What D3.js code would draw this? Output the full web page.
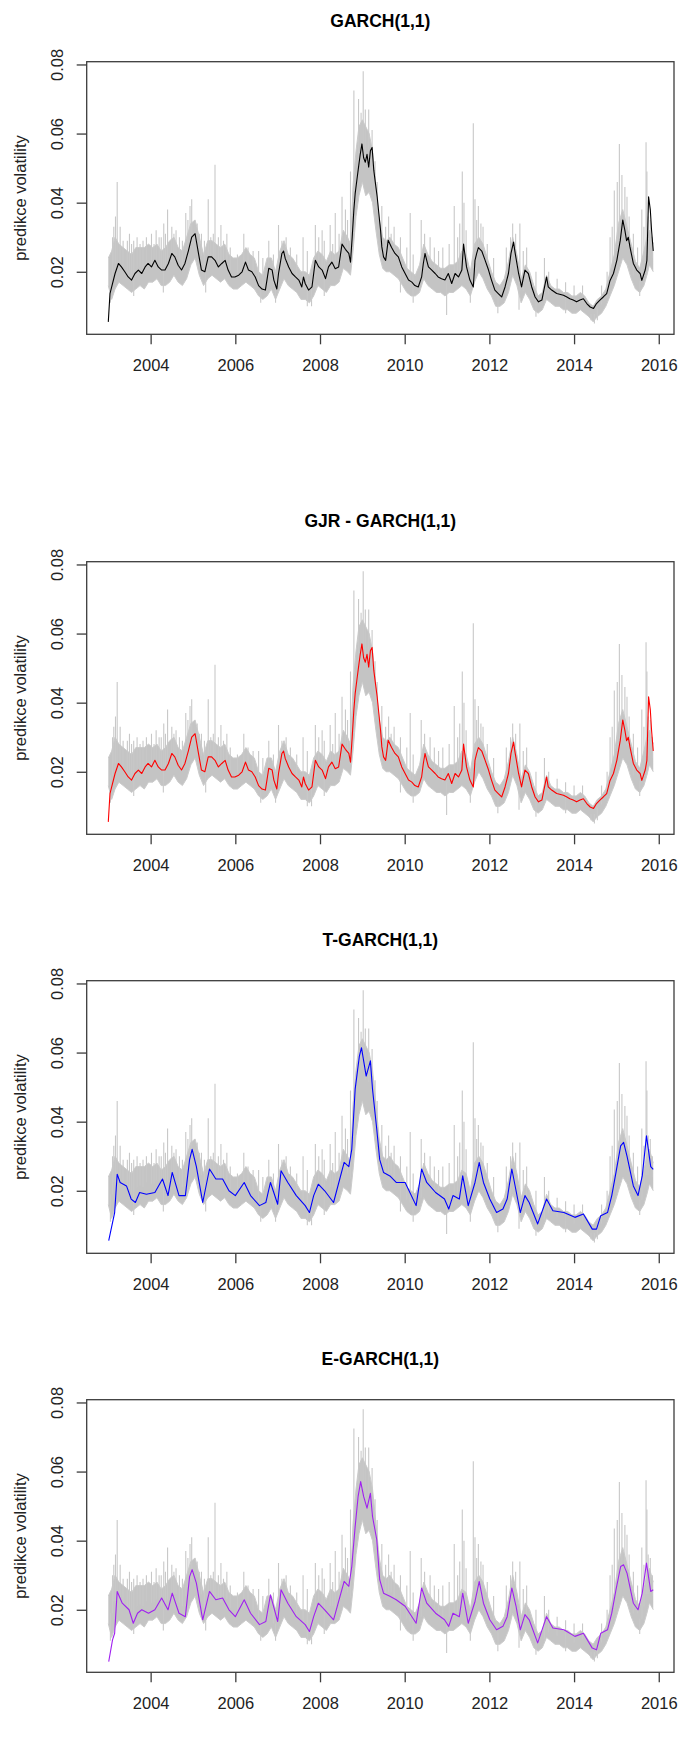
<!DOCTYPE html>
<html>
<head>
<meta charset="utf-8">
<script src="https://cdn.jsdelivr.net/npm/d3@7"></script>
<style>
  html, body { margin: 0; padding: 0; background: #ffffff; }
  svg { display: block; font-family: "Liberation Sans", Arial, sans-serif; }
</style>
</head>
<body>
<svg id="chart" width="684" height="1751"></svg>
<script>
// Tick labels and panel titles
const xTicks = [2004, 2006, 2008, 2010, 2012, 2014, 2016];
const yTicks = [0.02, 0.04, 0.06, 0.08];
const panelTitles = ["GARCH(1,1)", "GJR - GARCH(1,1)", "T-GARCH(1,1)", "E-GARCH(1,1)"];
const yAxisTitle = "predikce volatility";
const lineColors = ["#000000", "#ff0000", "#0000ff", "#a020f0"];

// Realised volatility (grey): band [year, low, high] and isolated spikes [year, value]
const realisedBand = [
  [2003.00, .016, .024], [2003.08, .012, .026], [2003.16, .015, .030], [2003.25, .017, .028],
  [2003.35, .016, .027], [2003.45, .015, .026], [2003.55, .014, .025], [2003.65, .015, .027],
  [2003.75, .016, .027], [2003.85, .015, .027], [2003.95, .017, .028], [2004.05, .017, .027],
  [2004.15, .018, .028], [2004.25, .016, .026], [2004.35, .016, .027], [2004.45, .017, .029],
  [2004.55, .019, .030], [2004.65, .017, .027], [2004.75, .016, .026], [2004.85, .018, .030],
  [2004.95, .022, .034], [2005.05, .024, .035], [2005.15, .019, .030], [2005.25, .016, .025],
  [2005.35, .018, .029], [2005.45, .019, .029], [2005.55, .018, .028], [2005.65, .017, .027],
  [2005.75, .018, .028], [2005.85, .016, .025], [2005.95, .015, .024], [2006.05, .015, .024],
  [2006.15, .016, .025], [2006.25, .017, .027], [2006.35, .016, .025], [2006.45, .015, .024],
  [2006.55, .013, .020], [2006.65, .012, .019], [2006.75, .013, .024], [2006.85, .015, .024],
  [2006.95, .012, .020], [2007.05, .015, .026], [2007.15, .018, .029], [2007.25, .016, .025],
  [2007.35, .015, .024], [2007.45, .014, .022], [2007.55, .012, .020], [2007.65, .012, .020],
  [2007.75, .011, .019], [2007.85, .013, .024], [2007.95, .016, .026], [2008.05, .015, .025],
  [2008.15, .014, .023], [2008.25, .016, .026], [2008.35, .016, .025], [2008.45, .017, .026],
  [2008.55, .021, .032], [2008.65, .020, .030], [2008.72, .019, .028], [2008.78, .026, .045],
  [2008.85, .036, .055], [2008.92, .042, .062], [2009.00, .046, .064], [2009.08, .042, .062],
  [2009.16, .043, .060], [2009.24, .040, .055], [2009.32, .032, .045], [2009.40, .025, .035],
  [2009.48, .021, .030], [2009.56, .020, .029], [2009.65, .020, .030], [2009.75, .019, .028],
  [2009.85, .018, .027], [2009.95, .016, .024], [2010.05, .014, .021], [2010.15, .013, .020],
  [2010.25, .013, .019], [2010.35, .014, .022], [2010.45, .018, .028], [2010.55, .016, .025],
  [2010.65, .015, .023], [2010.75, .014, .022], [2010.85, .014, .021], [2010.95, .013, .021],
  [2011.05, .014, .022], [2011.15, .014, .022], [2011.25, .015, .023], [2011.35, .016, .026],
  [2011.45, .015, .025], [2011.55, .013, .020], [2011.65, .017, .028], [2011.75, .020, .030],
  [2011.85, .018, .028], [2011.95, .015, .024], [2012.05, .013, .020], [2012.15, .010, .017],
  [2012.25, .010, .016], [2012.35, .011, .018], [2012.45, .014, .023], [2012.55, .019, .030],
  [2012.65, .016, .025], [2012.75, .011, .018], [2012.85, .014, .022], [2012.95, .012, .020],
  [2013.05, .009, .016], [2013.15, .008, .013], [2013.25, .009, .014], [2013.35, .012, .019],
  [2013.45, .011, .016], [2013.55, .010, .015], [2013.65, .010, .015], [2013.75, .009, .014],
  [2013.85, .009, .014], [2013.95, .008, .013], [2014.05, .008, .013], [2014.15, .009, .014],
  [2014.25, .008, .013], [2014.35, .007, .011], [2014.45, .0055, .010], [2014.55, .007, .012],
  [2014.65, .008, .013], [2014.75, .010, .015], [2014.85, .013, .020], [2014.95, .016, .025],
  [2015.05, .020, .034], [2015.15, .024, .038], [2015.25, .022, .033], [2015.35, .018, .028],
  [2015.45, .015, .023], [2015.55, .014, .021], [2015.65, .016, .026], [2015.72, .019, .030],
  [2015.78, .022, .032], [2015.87, .020, .028]
];
const realisedSpikes = [
  [2003.17, .036], [2003.21, .046], [2003.28, .033], [2003.45, .029], [2003.60, .029],
  [2003.75, .028], [2004.20, .030], [2004.31, .034], [2004.40, .038], [2004.60, .032],
  [2004.83, .037], [2004.93, .039], [2004.97, .041], [2005.20, .031], [2005.36, .041],
  [2005.52, .051], [2005.60, .030], [2005.66, .0335], [2005.80, .031], [2006.20, .031],
  [2006.55, .026], [2006.79, .029], [2007.02, .0335], [2007.60, .030], [2007.89, .0335],
  [2008.05, .032], [2008.24, .0335], [2008.36, .037], [2008.52, .0417], [2008.60, .038],
  [2008.72, .049], [2008.80, .0725], [2008.91, .070], [2008.97, .066], [2009.02, .078],
  [2009.07, .067], [2009.15, .067], [2009.23, .061], [2009.46, .039], [2009.62, .036],
  [2009.75, .033], [2010.13, .037], [2010.39, .035], [2010.60, .030], [2011.17, .039],
  [2011.36, .049], [2011.40, .040], [2011.62, .063], [2011.66, .041], [2011.74, .039],
  [2011.85, .033], [2012.55, .034], [2012.72, .034], [2013.30, .024], [2014.85, .030],
  [2014.95, .0435], [2015.02, .046], [2015.07, .057], [2015.13, .048], [2015.20, .0445],
  [2015.25, .0417], [2015.60, .038], [2015.70, .0575], [2015.72, .049],
  [2003.10, .030], [2003.13, .033], [2003.35, .029], [2003.50, .031], [2003.55, .028],
  [2003.68, .030], [2003.82, .029], [2003.90, .030], [2004.02, .031], [2004.08, .028],
  [2004.13, .032], [2004.25, .030], [2004.35, .031], [2004.50, .033], [2004.55, .031],
  [2004.68, .030], [2004.75, .029], [2004.88, .035], [2005.10, .034], [2005.15, .031],
  [2005.27, .029], [2005.42, .030], [2005.48, .031], [2005.72, .029], [2005.88, .027],
  [2006.05, .025], [2006.30, .027], [2006.42, .026], [2006.65, .024], [2006.90, .025],
  [2007.10, .029], [2007.20, .030], [2007.30, .027], [2007.45, .025], [2007.70, .026],
  [2007.97, .030], [2008.10, .029], [2008.30, .028], [2008.45, .031], [2008.65, .035],
  [2009.30, .052], [2009.35, .046], [2009.55, .033], [2009.68, .031], [2009.90, .030],
  [2010.05, .027], [2010.20, .025], [2010.47, .031], [2010.70, .027], [2010.80, .026],
  [2010.90, .027], [2011.05, .028], [2011.25, .030], [2011.30, .034], [2011.45, .032],
  [2011.70, .035], [2011.80, .034], [2011.95, .028], [2012.10, .024], [2012.40, .027],
  [2012.50, .030], [2012.62, .031], [2012.80, .026], [2012.88, .027], [2013.10, .020],
  [2013.40, .020], [2013.60, .018], [2013.80, .017], [2014.00, .016], [2014.20, .016],
  [2014.65, .016], [2014.78, .020], [2014.90, .033], [2015.30, .036], [2015.40, .031],
  [2015.50, .027], [2015.65, .033], [2015.75, .036], [2015.80, .035], [2015.85, .030],
  // downward spikes
  [2003.05, .011], [2003.60, .013], [2004.30, .014], [2005.30, .014], [2006.60, .011],
  [2006.95, .011], [2007.70, .010], [2007.80, .010], [2008.10, .013], [2009.90, .014],
  [2010.20, .011], [2010.99, .0075], [2011.55, .011], [2012.20, .008], [2012.70, .009],
  [2013.10, .007], [2013.80, .008], [2014.40, .006], [2014.48, .005], [2014.55, .006],
  [2015.55, .013]
];

// Predicted volatility of each model [year, value]
const garch = [
  [2003.00, .0055], [2003.04, .0137], [2003.08, .0156], [2003.16, .0195], [2003.24, .0224],
  [2003.31, .0214], [2003.39, .0200], [2003.47, .0185], [2003.55, .0176], [2003.63, .0195],
  [2003.71, .0205], [2003.79, .0195], [2003.87, .0214], [2003.94, .0224], [2004.02, .0214],
  [2004.10, .0233], [2004.18, .0214], [2004.26, .0205], [2004.34, .0205], [2004.42, .0224],
  [2004.50, .0253], [2004.57, .0243], [2004.65, .0219], [2004.73, .0205], [2004.81, .0224],
  [2004.89, .0260], [2004.97, .0300], [2005.05, .0310], [2005.13, .0253], [2005.20, .0205],
  [2005.28, .0200], [2005.36, .0243], [2005.44, .0243], [2005.52, .0233], [2005.60, .0214],
  [2005.68, .0224], [2005.76, .0233], [2005.83, .0205], [2005.91, .0185], [2005.99, .0185],
  [2006.08, .0190], [2006.16, .0200], [2006.24, .0228], [2006.31, .0205], [2006.39, .0200],
  [2006.47, .0185], [2006.55, .0160], [2006.63, .0150], [2006.71, .0147], [2006.79, .0210],
  [2006.87, .0205], [2006.91, .0176], [2006.98, .0150], [2007.02, .0195], [2007.10, .0253],
  [2007.14, .0260], [2007.18, .0238], [2007.26, .0214], [2007.34, .0195], [2007.42, .0185],
  [2007.50, .0176], [2007.57, .0156], [2007.61, .0185], [2007.65, .0166], [2007.73, .0147],
  [2007.81, .0156], [2007.89, .0233], [2007.97, .0214], [2008.05, .0205], [2008.13, .0180],
  [2008.20, .0214], [2008.28, .0228], [2008.36, .0209], [2008.44, .0214], [2008.52, .0280],
  [2008.60, .0265], [2008.68, .0253], [2008.72, .0228], [2008.76, .0300], [2008.80, .0380],
  [2008.83, .0426], [2008.87, .0465], [2008.91, .0503], [2008.95, .0540], [2008.99, .0570],
  [2009.03, .0530], [2009.07, .0517], [2009.11, .0540], [2009.15, .0503], [2009.19, .0550],
  [2009.23, .0560], [2009.27, .0494], [2009.31, .0455], [2009.35, .0417], [2009.39, .0368],
  [2009.43, .0320], [2009.46, .0272], [2009.50, .0243], [2009.55, .0233], [2009.61, .0291],
  [2009.69, .0270], [2009.77, .0253], [2009.85, .0243], [2009.93, .0214], [2010.01, .0195],
  [2010.09, .0176], [2010.17, .0170], [2010.24, .0160], [2010.32, .0156], [2010.40, .0185],
  [2010.44, .0224], [2010.48, .0253], [2010.52, .0233], [2010.56, .0214], [2010.64, .0205],
  [2010.72, .0195], [2010.79, .0185], [2010.87, .0180], [2010.95, .0176], [2011.03, .0195],
  [2011.11, .0166], [2011.19, .0195], [2011.27, .0185], [2011.35, .0205], [2011.39, .0280],
  [2011.46, .0214], [2011.54, .0176], [2011.62, .0156], [2011.66, .0233], [2011.70, .0253],
  [2011.74, .0270], [2011.82, .0260], [2011.90, .0233], [2011.98, .0205], [2012.05, .0176],
  [2012.13, .0147], [2012.21, .0137], [2012.29, .0127], [2012.37, .0156], [2012.45, .0195],
  [2012.51, .0253], [2012.57, .0286], [2012.61, .0253], [2012.69, .0195], [2012.76, .0156],
  [2012.84, .0205], [2012.92, .0195], [2013.00, .0156], [2013.08, .0127], [2013.16, .0113],
  [2013.24, .0118], [2013.35, .0185], [2013.39, .0156], [2013.47, .0147], [2013.59, .0137],
  [2013.75, .0132], [2013.83, .0127], [2013.90, .0122], [2013.98, .0118], [2014.06, .0113],
  [2014.14, .0118], [2014.22, .0122], [2014.30, .0108], [2014.38, .0098], [2014.46, .0094],
  [2014.53, .0108], [2014.61, .0118], [2014.69, .0127], [2014.77, .0137], [2014.85, .0175],
  [2014.93, .0195], [2015.01, .0233], [2015.09, .0290], [2015.15, .0350], [2015.20, .0320],
  [2015.24, .0290], [2015.28, .0300], [2015.32, .0272], [2015.40, .0224], [2015.48, .0205],
  [2015.56, .0195], [2015.60, .0175], [2015.68, .0205], [2015.72, .0233], [2015.76, .0417],
  [2015.80, .0380], [2015.83, .0320], [2015.87, .0260]
];
const gjrGarch = [
  [2003.00, .0055], [2003.04, .0137], [2003.08, .0156], [2003.16, .0195], [2003.24, .0224],
  [2003.31, .0214], [2003.39, .0200], [2003.47, .0185], [2003.55, .0176], [2003.63, .0195],
  [2003.71, .0205], [2003.79, .0195], [2003.87, .0214], [2003.94, .0224], [2004.02, .0214],
  [2004.10, .0233], [2004.18, .0214], [2004.26, .0205], [2004.34, .0205], [2004.42, .0224],
  [2004.50, .0253], [2004.57, .0243], [2004.65, .0219], [2004.73, .0205], [2004.81, .0224],
  [2004.89, .0260], [2004.97, .0300], [2005.05, .0310], [2005.13, .0253], [2005.20, .0205],
  [2005.28, .0200], [2005.36, .0243], [2005.44, .0243], [2005.52, .0233], [2005.60, .0214],
  [2005.68, .0224], [2005.76, .0233], [2005.83, .0205], [2005.91, .0185], [2005.99, .0185],
  [2006.08, .0190], [2006.16, .0200], [2006.24, .0228], [2006.31, .0205], [2006.39, .0200],
  [2006.47, .0185], [2006.55, .0160], [2006.63, .0150], [2006.71, .0147], [2006.79, .0210],
  [2006.87, .0205], [2006.91, .0176], [2006.98, .0150], [2007.02, .0195], [2007.10, .0253],
  [2007.14, .0260], [2007.18, .0238], [2007.26, .0214], [2007.34, .0195], [2007.42, .0185],
  [2007.50, .0176], [2007.57, .0156], [2007.61, .0185], [2007.65, .0166], [2007.73, .0147],
  [2007.81, .0156], [2007.89, .0233], [2007.97, .0214], [2008.05, .0205], [2008.13, .0180],
  [2008.20, .0214], [2008.28, .0228], [2008.36, .0209], [2008.44, .0214], [2008.52, .0280],
  [2008.60, .0265], [2008.68, .0253], [2008.72, .0228], [2008.76, .0300], [2008.80, .0380],
  [2008.83, .0426], [2008.87, .0465], [2008.91, .0503], [2008.95, .0540], [2008.99, .0570],
  [2009.03, .0530], [2009.07, .0517], [2009.11, .0540], [2009.15, .0503], [2009.19, .0550],
  [2009.23, .0560], [2009.27, .0494], [2009.31, .0455], [2009.35, .0417], [2009.39, .0368],
  [2009.43, .0320], [2009.46, .0272], [2009.50, .0243], [2009.55, .0233], [2009.61, .0291],
  [2009.69, .0270], [2009.77, .0253], [2009.85, .0243], [2009.93, .0214], [2010.01, .0195],
  [2010.09, .0176], [2010.17, .0170], [2010.24, .0160], [2010.32, .0156], [2010.40, .0185],
  [2010.44, .0224], [2010.48, .0253], [2010.52, .0233], [2010.56, .0214], [2010.64, .0205],
  [2010.72, .0195], [2010.79, .0185], [2010.87, .0180], [2010.95, .0176], [2011.03, .0195],
  [2011.11, .0166], [2011.19, .0195], [2011.27, .0185], [2011.35, .0205], [2011.39, .0280],
  [2011.46, .0214], [2011.54, .0176], [2011.62, .0156], [2011.66, .0233], [2011.70, .0253],
  [2011.74, .0270], [2011.82, .0260], [2011.90, .0233], [2011.98, .0205], [2012.05, .0176],
  [2012.13, .0147], [2012.21, .0137], [2012.29, .0127], [2012.37, .0156], [2012.45, .0195],
  [2012.51, .0253], [2012.57, .0286], [2012.61, .0253], [2012.69, .0195], [2012.76, .0156],
  [2012.84, .0205], [2012.92, .0195], [2013.00, .0156], [2013.08, .0127], [2013.16, .0113],
  [2013.24, .0118], [2013.35, .0185], [2013.39, .0156], [2013.47, .0147], [2013.59, .0137],
  [2013.75, .0132], [2013.83, .0127], [2013.90, .0122], [2013.98, .0118], [2014.06, .0113],
  [2014.14, .0118], [2014.22, .0122], [2014.30, .0108], [2014.38, .0098], [2014.46, .0094],
  [2014.53, .0108], [2014.61, .0118], [2014.69, .0127], [2014.77, .0137], [2014.85, .0175],
  [2014.93, .0195], [2015.01, .0233], [2015.09, .0290], [2015.15, .0350], [2015.20, .0320],
  [2015.24, .0290], [2015.28, .0300], [2015.32, .0272], [2015.40, .0224], [2015.48, .0205],
  [2015.56, .0195], [2015.60, .0175], [2015.68, .0205], [2015.72, .0233], [2015.76, .0417],
  [2015.80, .0380], [2015.83, .0320], [2015.87, .0260]
];
const tGarch = [
  [2003.01, .0056], [2003.15, .0137], [2003.21, .0248], [2003.28, .0224], [2003.43, .0214],
  [2003.54, .0176], [2003.64, .0166], [2003.74, .0195], [2003.90, .0190], [2004.10, .0195],
  [2004.28, .0234], [2004.41, .0186], [2004.51, .0253], [2004.67, .0186], [2004.82, .0186],
  [2004.92, .0290], [2004.98, .0320], [2005.08, .0270], [2005.23, .0166], [2005.39, .0263],
  [2005.54, .0234], [2005.70, .0234], [2005.85, .0200], [2006.00, .0186], [2006.21, .0224],
  [2006.36, .0186], [2006.57, .0157], [2006.72, .0166], [2006.83, .0224], [2007.00, .0161],
  [2007.08, .0258], [2007.24, .0224], [2007.44, .0186], [2007.65, .0157], [2007.75, .0137],
  [2007.85, .0186], [2007.96, .0219], [2008.11, .0200], [2008.32, .0166], [2008.57, .0282],
  [2008.68, .0270], [2008.75, .0320], [2008.83, .0494], [2008.93, .0590], [2008.98, .0614],
  [2009.09, .0532], [2009.19, .0576], [2009.24, .0494], [2009.34, .0378], [2009.41, .0290],
  [2009.50, .0253], [2009.65, .0243], [2009.80, .0224], [2010.01, .0224], [2010.27, .0157],
  [2010.40, .0263], [2010.52, .0224], [2010.73, .0195], [2010.94, .0176], [2011.04, .0147],
  [2011.14, .0186], [2011.29, .0176], [2011.37, .0243], [2011.50, .0157], [2011.66, .0224],
  [2011.76, .0282], [2011.86, .0224], [2012.01, .0176], [2012.17, .0137], [2012.32, .0147],
  [2012.42, .0176], [2012.53, .0263], [2012.63, .0200], [2012.73, .0137], [2012.84, .0186],
  [2012.94, .0166], [2013.14, .0104], [2013.35, .0176], [2013.50, .0142], [2013.76, .0137],
  [2014.02, .0123], [2014.22, .0133], [2014.43, .0089], [2014.53, .0089], [2014.63, .0128],
  [2014.79, .0137], [2014.89, .0186], [2014.99, .0253], [2015.10, .0330], [2015.17, .0340],
  [2015.25, .0300], [2015.40, .0214], [2015.51, .0186], [2015.61, .0243], [2015.71, .0359],
  [2015.81, .0270], [2015.87, .0262]
];
const eGarch = [
  [2003.01, .0050], [2003.10, .0113], [2003.15, .0132], [2003.21, .0253], [2003.33, .0219],
  [2003.49, .0200], [2003.59, .0161], [2003.69, .0190], [2003.79, .0200], [2003.95, .0190],
  [2004.10, .0200], [2004.26, .0234], [2004.41, .0200], [2004.51, .0248], [2004.67, .0190],
  [2004.82, .0180], [2004.92, .0296], [2004.98, .0316], [2005.08, .0277], [2005.23, .0171],
  [2005.39, .0253], [2005.54, .0229], [2005.70, .0234], [2005.85, .0200], [2006.00, .0180],
  [2006.21, .0229], [2006.36, .0190], [2006.57, .0157], [2006.72, .0166], [2006.83, .0243],
  [2007.00, .0166], [2007.08, .0258], [2007.24, .0219], [2007.44, .0180], [2007.65, .0157],
  [2007.75, .0137], [2007.85, .0180], [2007.96, .0219], [2008.11, .0200], [2008.32, .0171],
  [2008.57, .0282], [2008.68, .0268], [2008.75, .0325], [2008.83, .0441], [2008.90, .0528],
  [2008.96, .0571], [2009.03, .0528], [2009.11, .0494], [2009.19, .0537], [2009.24, .0470],
  [2009.34, .0403], [2009.41, .0287], [2009.50, .0248], [2009.65, .0239], [2009.80, .0229],
  [2010.01, .0210], [2010.27, .0161], [2010.40, .0263], [2010.52, .0219], [2010.73, .0190],
  [2010.94, .0171], [2011.04, .0152], [2011.14, .0190], [2011.29, .0180], [2011.37, .0248],
  [2011.50, .0161], [2011.66, .0224], [2011.76, .0282], [2011.86, .0219], [2012.01, .0171],
  [2012.17, .0142], [2012.32, .0152], [2012.42, .0180], [2012.53, .0263], [2012.63, .0210],
  [2012.73, .0142], [2012.84, .0186], [2012.94, .0171], [2013.14, .0104], [2013.35, .0180],
  [2013.50, .0147], [2013.76, .0142], [2014.02, .0123], [2014.22, .0132], [2014.43, .0089],
  [2014.53, .0084], [2014.63, .0132], [2014.79, .0142], [2014.89, .0190], [2014.99, .0258],
  [2015.10, .0325], [2015.17, .0330], [2015.25, .0306], [2015.40, .0219], [2015.51, .0200],
  [2015.61, .0248], [2015.71, .0335], [2015.81, .0253], [2015.87, .0258]
];
const modelSeries = [garch, gjrGarch, tGarch, eGarch];

// Layout
const panelOffsets = [0, 500, 919, 1338];
const box = { left: 86.7, right: 674, top: 61.7, bottom: 334.3 };
const xDomain = [2002.49, 2016.36];
const yDomain = [0.0019, 0.0808];

const svg = d3.select("#chart");
const x = d3.scaleLinear().domain(xDomain).range([box.left, box.right]);
const y = d3.scaleLinear().domain(yDomain).range([box.bottom, box.top]);

const bandArea = d3.area().x(d => x(d[0])).y0(d => y(d[1])).y1(d => y(d[2]));
const bandEdge = (i) => d3.line().x(d => x(d[0])).y(d => y(d[i]));
const modelLine = d3.line().x(d => x(d[0])).y(d => y(d[1]));
const bandYears = realisedBand.map(d => d[0]);

// Base of a spike: middle of the band at the closest band reading
function spikeBase(yr) {
  const i = d3.minIndex(bandYears, b => Math.abs(b - yr));
  return (realisedBand[i][1] + realisedBand[i][2]) / 2;
}

panelTitles.forEach((title, p) => {
  const g = svg.append("g").attr("transform", `translate(0,${panelOffsets[p]})`);

  g.append("clipPath").attr("id", "clip" + p)
    .append("rect")
    .attr("x", box.left).attr("y", box.top)
    .attr("width", box.right - box.left).attr("height", box.bottom - box.top);

  const plot = g.append("g").attr("clip-path", `url(#clip${p})`);

  // realised volatility in grey
  plot.append("path").datum(realisedBand)
    .attr("d", bandArea).attr("fill", "#c4c4c4").attr("stroke", "none");
  [1, 2].forEach(i => plot.append("path").datum(realisedBand)
    .attr("d", bandEdge(i)).attr("fill", "none")
    .attr("stroke", "#cbcbcb").attr("stroke-width", 1));
  plot.selectAll("line.spike").data(realisedSpikes).join("line")
    .attr("class", "spike")
    .attr("x1", d => x(d[0])).attr("x2", d => x(d[0]))
    .attr("y1", d => y(spikeBase(d[0]))).attr("y2", d => y(d[1]))
    .attr("stroke", "#c8c8c8").attr("stroke-width", 1.1);

  // model forecast
  plot.append("path").datum(modelSeries[p])
    .attr("d", modelLine).attr("fill", "none")
    .attr("stroke", lineColors[p]).attr("stroke-width", 1.1)
    .attr("stroke-linejoin", "round");

  // frame
  g.append("rect")
    .attr("x", box.left).attr("y", box.top)
    .attr("width", box.right - box.left).attr("height", box.bottom - box.top)
    .attr("fill", "none").attr("stroke", "#3c3c3c").attr("stroke-width", 1.3);

  // x axis
  const xa = g.append("g").attr("transform", `translate(0,${box.bottom})`)
    .call(d3.axisBottom(x).tickValues(xTicks).tickSize(10).tickPadding(15)
      .tickFormat(d3.format("d")));
  xa.select(".domain").remove();
  xa.selectAll(".tick line").attr("stroke", "#3c3c3c").attr("stroke-width", 1.3);
  xa.selectAll(".tick text").attr("font-size", 16.5).attr("fill", "#222")
    .attr("font-family", "'Liberation Sans', Arial, sans-serif");

  // y axis with labels parallel to the axis
  const ya = g.append("g").attr("transform", `translate(${box.left},0)`)
    .call(d3.axisLeft(y).tickValues(yTicks).tickSize(10).tickFormat(d3.format(".2f")));
  ya.select(".domain").remove();
  ya.selectAll(".tick line").attr("stroke", "#3c3c3c").attr("stroke-width", 1.3);
  ya.selectAll(".tick text")
    .attr("x", 0).attr("dy", null)
    .attr("transform", "translate(-30,0) rotate(-90)")
    .attr("text-anchor", "middle").attr("dominant-baseline", "central")
    .attr("font-size", 16.5).attr("fill", "#222")
    .attr("font-family", "'Liberation Sans', Arial, sans-serif");

  // axis title
  g.append("text")
    .attr("transform", `translate(20,${(box.top + box.bottom) / 2}) rotate(-90)`)
    .attr("text-anchor", "middle").attr("dominant-baseline", "central")
    .attr("font-size", 16.5).attr("fill", "#222")
    .text(yAxisTitle);

  // panel title
  g.append("text")
    .attr("x", (box.left + box.right) / 2).attr("y", 21)
    .attr("text-anchor", "middle").attr("dominant-baseline", "central")
    .attr("font-size", 17.5).attr("font-weight", "bold").attr("fill", "#000")
    .text(title);
});
</script>
</body>
</html>
